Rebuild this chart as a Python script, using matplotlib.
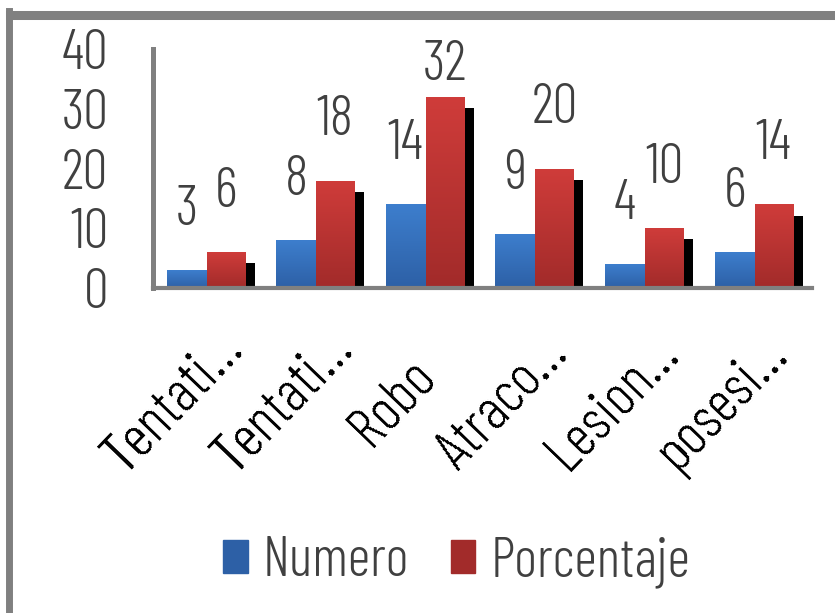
import matplotlib
matplotlib.use('Agg')
import matplotlib.pyplot as plt
import matplotlib.transforms as mtransforms
import numpy as np
from matplotlib import patheffects as pe
from matplotlib.colors import LinearSegmentedColormap
from matplotlib.patches import Rectangle
from matplotlib.lines import Line2D

categories = ['Tentati…', 'Tentati…', 'Robo', 'Atraco…', 'Lesion…', 'posesi…']
numero = [3, 8, 14, 9, 4, 6]
porcentaje = [6, 18, 32, 20, 10, 14]
series_names = ['Numero', 'Porcentaje']
yticks = [0, 10, 20, 30, 40]

plt.rcParams['font.family'] = ['Barlow Condensed', 'Archivo Narrow', 'Liberation Sans', 'DejaVu Sans']
plt.rcParams['font.weight'] = 300

BLUE_TOP, BLUE_BOT = '#3d7ecd', '#2d60a6'
RED_TOP, RED_BOT = '#cf3c3a', '#a22b2a'
TXT = '#404040'
FS = 40
XFS = 42

fig = plt.figure(figsize=(8.35, 6.13), dpi=100)
ax = fig.add_axes([0.183, 0.530, 0.789, 0.390])
x = np.arange(len(categories))
w1, w2 = 0.365, 0.347
b1 = ax.bar(x - w1 / 2, numero, w1, color=BLUE_BOT, zorder=2, linewidth=0)
b2 = ax.bar(x + w2 / 2, porcentaje, w2, color=RED_BOT, zorder=2, linewidth=0)

for b in b2:
    b.set_path_effects([pe.SimplePatchShadow(offset=(7.2, -8), shadow_rgbFace='black', alpha=1.0),
                        pe.Normal()])


def gradient(bars, top, bottom):
    cmap = LinearSegmentedColormap.from_list('g', [bottom, top])
    g = np.linspace(0, 1, 64).reshape(-1, 1)
    for b in bars:
        x0, y0 = b.get_x(), b.get_y()
        im = ax.imshow(g, cmap=cmap, origin='lower', aspect='auto',
                       extent=[x0, x0 + b.get_width(), y0, y0 + b.get_height()],
                       zorder=2.5, interpolation='bilinear')
        im.set_clip_path(b)


gradient(b1, BLUE_TOP, BLUE_BOT)
gradient(b2, RED_TOP, RED_BOT)

# data labels (Excel pushes the tallest one down to stay inside the chart)
for bars, vals in ((b1, numero), (b2, porcentaje)):
    for b, v in zip(bars, vals):
        ax.text(b.get_x() + b.get_width() / 2, min(v + 7.6, 34.8), str(v),
                ha='center', va='baseline', fontsize=FS, color=TXT, clip_on=False)

ax.set_xlim(-0.49, 5.52)
ax.set_ylim(0, 40)
ax.set_yticks(yticks)
ax.set_yticklabels([str(t) for t in yticks])
ax.set_xticks(x)
ax.set_xticklabels(categories)
for s in ('top', 'right'):
    ax.spines[s].set_visible(False)
ax.spines['left'].set_color('#808080')
ax.spines['left'].set_linewidth(3.6)
ax.spines['bottom'].set_color('#808080')
ax.spines['bottom'].set_linewidth(3.0)
ax.tick_params(axis='y', length=0, pad=32, labelsize=FS, labelcolor=TXT)
ax.tick_params(axis='x', length=0, pad=0, labelsize=XFS, labelcolor='black')
offset = mtransforms.ScaledTranslation(-0.32, -1.15, fig.dpi_scale_trans)
for lab in ax.get_xticklabels():
    lab.set_rotation(46)
    lab.set_ha('center')
    lab.set_va('center')
    lab.set_rotation_mode('anchor')
    lab.set_transform(lab.get_transform() + offset)
    try:
        lab.set_antialiased(False)
    except Exception:
        pass

handles = [Rectangle((0, 0), 1, 1, color=BLUE_BOT), Rectangle((0, 0), 1, 1, color=RED_BOT)]
fig.legend(handles, series_names, loc='center', bbox_to_anchor=(0.547, 0.083), ncol=2,
           frameon=False, fontsize=FS, labelcolor=TXT, handlelength=0.44, handleheight=0.55,
           handletextpad=0.27, columnspacing=0.75)

# outer frame lines (top and left)
fig.add_artist(Line2D([0.012, 1.0], [0.976, 0.976], color='#808080', lw=6.5, transform=fig.transFigure))
fig.add_artist(Line2D([0.0102, 0.0102], [0.0, 0.982], color='#808080', lw=5, transform=fig.transFigure))

fig.savefig('out.png', dpi=100)
